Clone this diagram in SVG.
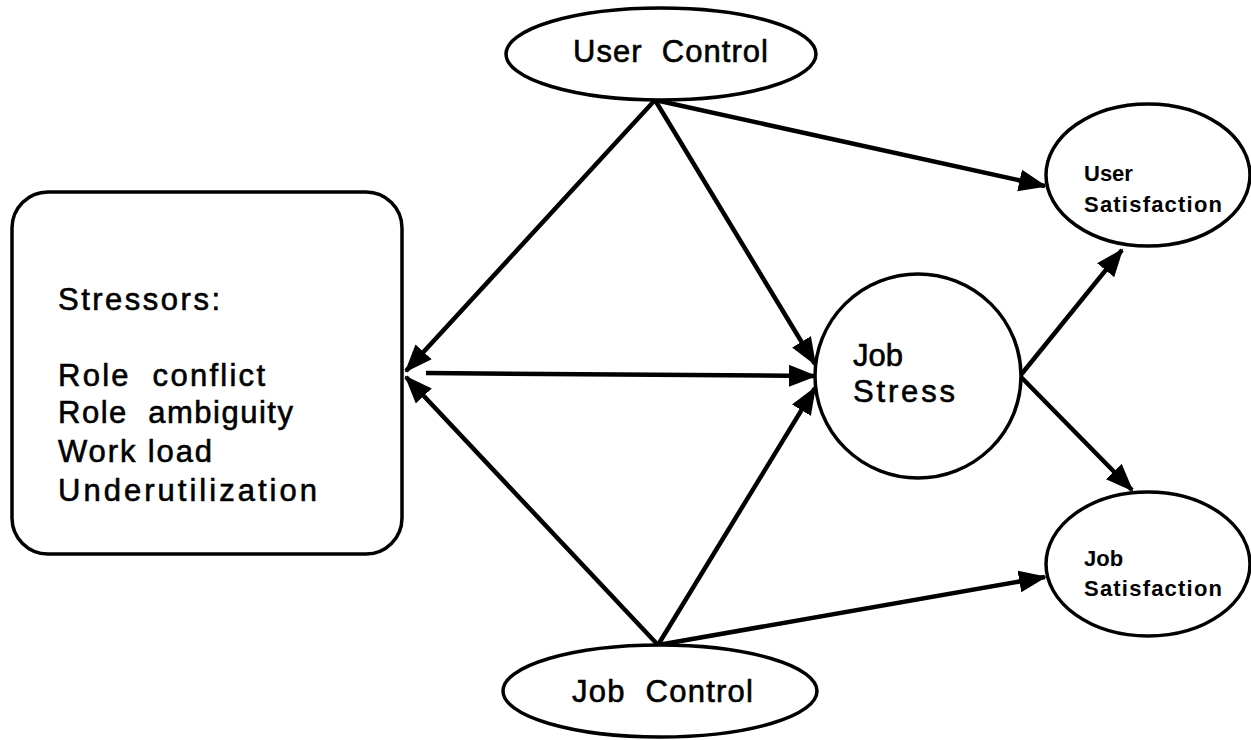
<svg xmlns="http://www.w3.org/2000/svg" width="1251" height="740" viewBox="0 0 1251 740">
<style>
.shape{fill:#fff;stroke:#000;stroke-width:3.5}
.t{font-family:"Liberation Sans",Arial,sans-serif;fill:#000}
.big{font-size:31px;stroke:#000;stroke-width:0.6}
.small{font-size:22px;font-weight:bold}
.conn line{stroke:#000;stroke-width:4.5;marker-end:url(#ah)}
</style>
<defs>
<marker id="ah" markerUnits="userSpaceOnUse" markerWidth="32" markerHeight="24" refX="26" refY="11" orient="auto">
<path d="M0,0 L28,11 L0,22 Z" fill="#000"/>
</marker>
</defs>
<rect width="1251" height="740" fill="#fff"/>
<g id="conn" class="conn">
<line x1="655" y1="100" x2="406" y2="371"/>
<line x1="655" y1="100" x2="815" y2="364"/>
<line x1="655" y1="100" x2="1045" y2="186"/>
<line x1="426" y1="373" x2="815" y2="376"/>
<line x1="658" y1="645" x2="406" y2="377"/>
<line x1="658" y1="645" x2="815" y2="388"/>
<line x1="658" y1="645" x2="1045" y2="577"/>
<line x1="1020" y1="376" x2="1122" y2="250"/>
<line x1="1020" y1="376" x2="1132" y2="490"/>
</g>
<g id="stressors">
<rect class="shape" x="12" y="192" width="390" height="362" rx="36"/>
<text class="t big" x="58" y="310" textLength="162" lengthAdjust="spacing">Stressors:</text>
<text class="t big" x="58" y="386" textLength="207" lengthAdjust="spacing" xml:space="preserve">Role  conflict</text>
<text class="t big" x="58" y="423" textLength="235" lengthAdjust="spacing" xml:space="preserve">Role  ambiguity</text>
<text class="t big" x="58" y="462" textLength="154" lengthAdjust="spacing">Work load</text>
<text class="t big" x="58" y="501" textLength="259" lengthAdjust="spacing">Underutilization</text>
</g>
<g id="user-control">
<ellipse class="shape" cx="661" cy="54" rx="155" ry="46"/>
<text class="t big" x="573" y="62" textLength="195" lengthAdjust="spacing" xml:space="preserve">User  Control</text>
</g>
<g id="job-control">
<ellipse class="shape" cx="660" cy="691" rx="157" ry="46"/>
<text class="t big" x="572" y="702" textLength="181" lengthAdjust="spacing" xml:space="preserve">Job  Control</text>
</g>
<g id="job-stress">
<ellipse class="shape" cx="918" cy="376" rx="103" ry="102"/>
<text class="t big" x="853" y="366">Job</text>
<text class="t big" x="853" y="402" textLength="102" lengthAdjust="spacing">Stress</text>
</g>
<g id="user-satisfaction">
<ellipse class="shape" cx="1148" cy="175" rx="102" ry="71"/>
<text class="t small" x="1084" y="181">User</text>
<text class="t small" x="1084" y="212" textLength="138" lengthAdjust="spacing">Satisfaction</text>
</g>
<g id="job-satisfaction">
<ellipse class="shape" cx="1148" cy="564" rx="102" ry="72"/>
<text class="t small" x="1084" y="566">Job</text>
<text class="t small" x="1084" y="596" textLength="138" lengthAdjust="spacing">Satisfaction</text>
</g>
</svg>
